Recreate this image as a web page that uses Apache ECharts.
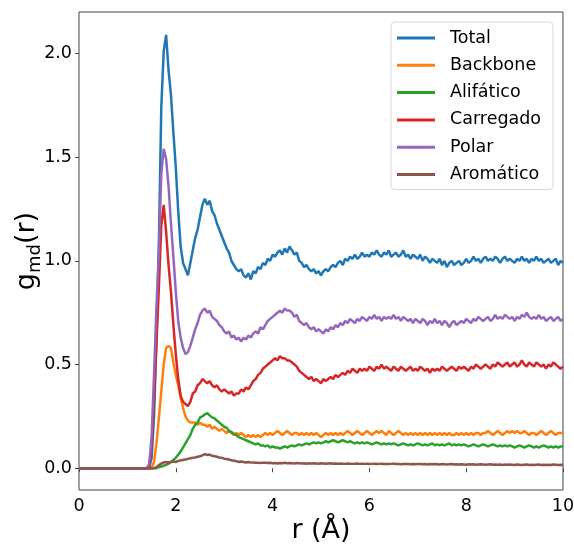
<!DOCTYPE html>
<html>
<head>
<meta charset="utf-8">
<script src="https://cdn.jsdelivr.net/npm/echarts@6/dist/echarts.min.js"></script>
<style>
html,body{margin:0;padding:0;background:#fff;}
#chart{width:574px;height:544px;}
</style>
</head>
<body>
<div id="chart"></div>
<script>
// r grid (Å)
var r = [0,
1.40,1.45,1.50,1.55,1.60,1.65,1.70,1.75,1.80,1.85,
1.90,1.95,2.00,2.05,2.10,2.15,2.20,2.25,2.30,2.35,
2.40,2.45,2.50,2.55,2.60,2.65,2.70,2.75,2.80,2.85,
2.90,2.95,3.00,3.05,3.10,3.15,3.20,3.25,3.30,3.35,
3.40,3.45,3.50,3.55,3.60,3.65,3.70,3.75,3.80,3.85,
3.90,3.95,4.00,4.05,4.10,4.15,4.20,4.25,4.30,4.35,
4.40,4.45,4.50,4.55,4.60,4.65,4.70,4.75,4.80,4.85,
4.90,4.95,5.00,5.05,5.10,5.15,5.20,5.25,5.30,5.35,
5.40,5.45,5.50,5.55,5.60,5.65,5.70,5.75,5.80,5.85,
5.90,5.95,6.00,6.05,6.10,6.15,6.20,6.25,6.30,6.35,
6.40,6.45,6.50,6.55,6.60,6.65,6.70,6.75,6.80,6.85,
6.90,6.95,7.00,7.05,7.10,7.15,7.20,7.25,7.30,7.35,
7.40,7.45,7.50,7.55,7.60,7.65,7.70,7.75,7.80,7.85,
7.90,7.95,8.00,8.05,8.10,8.15,8.20,8.25,8.30,8.35,
8.40,8.45,8.50,8.55,8.60,8.65,8.70,8.75,8.80,8.85,
8.90,8.95,9.00,9.05,9.10,9.15,9.20,9.25,9.30,9.35,
9.40,9.45,9.50,9.55,9.60,9.65,9.70,9.75,9.80,9.85,
9.90,9.95,10.00];

var total = [0,
0.00,0.00,0.05,0.25,0.62,1.08,1.74,2.01,2.09,1.92,
1.80,1.62,1.45,1.24,1.07,0.99,0.96,0.93,0.99,1.05,
1.11,1.15,1.21,1.27,1.30,1.27,1.29,1.24,1.22,1.18,
1.15,1.12,1.09,1.06,1.04,1.00,0.98,0.96,0.95,0.96,
0.93,0.92,0.94,0.91,0.95,0.94,0.97,0.96,0.99,0.98,
1.01,1.00,1.03,1.02,1.04,1.05,1.03,1.06,1.04,1.07,
1.05,1.03,1.04,1.00,0.99,0.97,0.98,0.96,0.95,0.96,
0.94,0.95,0.93,0.95,0.96,0.95,0.97,0.98,0.97,0.99,
1.00,0.98,1.01,1.00,1.02,1.01,1.03,1.01,1.02,1.04,
1.02,1.03,1.02,1.04,1.03,1.05,1.03,1.02,1.04,1.03,
1.05,1.02,1.03,1.04,1.02,1.03,1.05,1.02,1.03,1.01,
1.03,1.02,1.01,1.03,1.00,1.02,1.01,0.99,1.01,1.00,
0.99,1.01,0.98,1.00,0.97,0.99,1.00,0.98,0.99,1.00,
0.98,0.99,1.01,0.99,1.00,1.02,1.00,1.01,0.99,1.01,
1.02,1.00,1.01,1.00,1.02,1.01,0.99,1.01,1.02,1.00,
1.01,1.00,0.99,1.01,1.00,1.02,1.00,1.01,0.99,1.01,
1.00,1.02,1.00,1.01,0.99,1.00,1.01,0.99,1.00,1.01,
0.98,1.00,0.99];

var backbone = [0,
0.00,0.00,0.00,0.03,0.12,0.24,0.37,0.50,0.58,0.59,
0.58,0.51,0.45,0.40,0.34,0.29,0.25,0.23,0.22,0.22,
0.22,0.21,0.22,0.21,0.21,0.20,0.21,0.19,0.20,0.19,
0.18,0.19,0.18,0.17,0.18,0.17,0.16,0.17,0.16,0.17,
0.16,0.15,0.16,0.15,0.16,0.15,0.16,0.15,0.16,0.17,
0.16,0.17,0.16,0.17,0.18,0.17,0.16,0.17,0.18,0.17,
0.16,0.17,0.17,0.16,0.17,0.16,0.17,0.16,0.17,0.16,
0.17,0.16,0.15,0.16,0.17,0.16,0.17,0.16,0.17,0.16,
0.17,0.16,0.17,0.18,0.17,0.16,0.17,0.18,0.17,0.16,
0.17,0.18,0.17,0.16,0.17,0.18,0.17,0.18,0.17,0.16,
0.18,0.17,0.16,0.17,0.18,0.17,0.16,0.17,0.16,0.17,
0.16,0.17,0.16,0.17,0.16,0.17,0.16,0.17,0.16,0.17,
0.16,0.17,0.16,0.17,0.16,0.17,0.16,0.16,0.17,0.16,
0.17,0.16,0.17,0.16,0.17,0.16,0.17,0.17,0.16,0.17,
0.17,0.18,0.17,0.16,0.17,0.18,0.17,0.16,0.17,0.18,
0.17,0.18,0.17,0.18,0.17,0.17,0.18,0.17,0.16,0.17,
0.17,0.16,0.17,0.18,0.17,0.16,0.17,0.18,0.17,0.16,
0.17,0.17,0.17];

var alifatico = [0,
0.00,0.00,0.00,0.00,0.00,0.005,0.008,0.012,0.016,0.022,
0.03,0.04,0.05,0.065,0.08,0.10,0.12,0.14,0.16,0.19,
0.21,0.22,0.245,0.25,0.26,0.265,0.255,0.245,0.24,0.23,
0.22,0.21,0.20,0.195,0.18,0.175,0.165,0.16,0.15,0.145,
0.14,0.135,0.13,0.125,0.12,0.115,0.12,0.11,0.11,0.105,
0.11,0.10,0.105,0.10,0.10,0.095,0.10,0.105,0.10,0.105,
0.11,0.105,0.11,0.115,0.11,0.115,0.12,0.115,0.12,0.125,
0.12,0.125,0.12,0.125,0.13,0.125,0.13,0.135,0.13,0.125,
0.13,0.135,0.13,0.125,0.13,0.125,0.12,0.125,0.12,0.125,
0.12,0.125,0.12,0.115,0.12,0.125,0.12,0.115,0.12,0.115,
0.12,0.115,0.12,0.115,0.11,0.115,0.12,0.115,0.11,0.115,
0.11,0.115,0.12,0.115,0.11,0.115,0.11,0.115,0.12,0.11,
0.115,0.11,0.115,0.11,0.115,0.12,0.11,0.115,0.11,0.115,
0.11,0.115,0.11,0.105,0.11,0.115,0.11,0.105,0.11,0.115,
0.11,0.105,0.11,0.115,0.11,0.105,0.11,0.105,0.11,0.105,
0.11,0.105,0.10,0.105,0.11,0.105,0.10,0.105,0.11,0.105,
0.10,0.105,0.10,0.105,0.11,0.105,0.10,0.105,0.10,0.105,
0.10,0.105,0.105];

var carregado = [0,
0.00,0.01,0.10,0.33,0.60,0.87,1.17,1.27,1.14,0.98,
0.85,0.69,0.55,0.43,0.35,0.32,0.31,0.30,0.32,0.36,
0.37,0.40,0.41,0.43,0.42,0.41,0.42,0.40,0.39,0.40,
0.38,0.37,0.38,0.37,0.36,0.37,0.35,0.36,0.36,0.38,
0.37,0.39,0.38,0.40,0.42,0.43,0.45,0.46,0.48,0.49,
0.50,0.51,0.52,0.53,0.52,0.54,0.53,0.53,0.52,0.52,
0.51,0.50,0.49,0.47,0.46,0.45,0.44,0.43,0.44,0.42,
0.43,0.42,0.41,0.43,0.42,0.43,0.44,0.43,0.45,0.44,
0.45,0.46,0.45,0.47,0.46,0.48,0.47,0.46,0.48,0.47,
0.48,0.47,0.49,0.48,0.47,0.49,0.48,0.50,0.48,0.49,
0.48,0.47,0.49,0.48,0.47,0.49,0.48,0.47,0.48,0.49,
0.47,0.48,0.47,0.49,0.48,0.47,0.48,0.46,0.48,0.47,
0.48,0.47,0.49,0.48,0.47,0.48,0.49,0.48,0.47,0.49,
0.48,0.49,0.48,0.47,0.49,0.48,0.50,0.49,0.48,0.49,
0.50,0.49,0.48,0.50,0.49,0.51,0.50,0.49,0.50,0.51,
0.49,0.50,0.51,0.49,0.50,0.52,0.50,0.49,0.51,0.50,
0.49,0.51,0.50,0.49,0.50,0.48,0.50,0.49,0.51,0.50,
0.49,0.48,0.49];

var polar = [0,
0.00,0.02,0.15,0.45,0.78,1.04,1.42,1.54,1.49,1.36,
1.18,1.02,0.85,0.71,0.63,0.58,0.55,0.56,0.59,0.63,
0.67,0.70,0.74,0.76,0.77,0.75,0.76,0.73,0.72,0.71,
0.69,0.68,0.66,0.65,0.66,0.63,0.64,0.62,0.63,0.61,
0.63,0.62,0.64,0.63,0.65,0.66,0.65,0.68,0.67,0.69,
0.71,0.72,0.73,0.74,0.75,0.76,0.75,0.77,0.76,0.76,
0.75,0.73,0.74,0.71,0.70,0.69,0.70,0.68,0.67,0.68,
0.66,0.67,0.66,0.65,0.67,0.66,0.68,0.67,0.69,0.68,
0.70,0.69,0.71,0.70,0.72,0.71,0.70,0.72,0.71,0.73,
0.72,0.71,0.73,0.72,0.74,0.72,0.73,0.71,0.73,0.72,
0.73,0.72,0.74,0.72,0.73,0.71,0.73,0.72,0.71,0.72,
0.70,0.72,0.71,0.70,0.72,0.71,0.69,0.71,0.70,0.72,
0.70,0.71,0.69,0.71,0.70,0.68,0.70,0.71,0.69,0.70,
0.71,0.70,0.72,0.71,0.70,0.72,0.71,0.73,0.72,0.71,
0.72,0.73,0.71,0.72,0.74,0.72,0.73,0.72,0.74,0.73,
0.72,0.73,0.71,0.73,0.72,0.74,0.73,0.75,0.73,0.72,
0.73,0.72,0.74,0.72,0.73,0.71,0.72,0.73,0.71,0.72,
0.73,0.71,0.72];

var aromatico = [0,
0.00,0.00,0.00,0.00,0.005,0.015,0.022,0.028,0.030,0.028,
0.030,0.032,0.030,0.035,0.038,0.040,0.042,0.045,0.048,0.050,
0.052,0.055,0.058,0.062,0.068,0.064,0.066,0.060,0.058,0.055,
0.052,0.050,0.046,0.044,0.042,0.038,0.036,0.034,0.030,0.032,
0.030,0.028,0.030,0.027,0.028,0.026,0.027,0.025,0.027,0.026,
0.025,0.026,0.024,0.025,0.023,0.025,0.024,0.026,0.024,0.025,
0.024,0.023,0.025,0.024,0.023,0.024,0.022,0.024,0.023,0.024,
0.023,0.022,0.024,0.023,0.022,0.023,0.024,0.022,0.023,0.022,
0.023,0.022,0.021,0.023,0.022,0.021,0.022,0.023,0.021,0.022,
0.021,0.022,0.020,0.021,0.022,0.020,0.021,0.022,0.020,0.021,
0.020,0.021,0.022,0.020,0.021,0.019,0.020,0.021,0.020,0.019,
0.020,0.019,0.021,0.020,0.019,0.020,0.018,0.020,0.019,0.020,
0.019,0.018,0.020,0.019,0.018,0.019,0.020,0.018,0.019,0.018,
0.019,0.018,0.017,0.019,0.018,0.019,0.017,0.018,0.019,0.018,
0.017,0.018,0.019,0.017,0.018,0.017,0.018,0.016,0.018,0.017,
0.018,0.017,0.016,0.018,0.017,0.016,0.017,0.018,0.016,0.017,
0.016,0.017,0.018,0.016,0.017,0.016,0.017,0.016,0.018,0.017,
0.016,0.017,0.016];

var seriesNames = ['Total','Backbone','Alifático','Carregado','Polar','Aromático'];
var seriesValues = [total, backbone, alifatico, carregado, polar, aromatico];
var seriesColors = ['#1f77b4','#ff7f0e','#2ca02c','#d62728','#9467bd','#8c564b'];
var xTicks = [0,2,4,6,8,10];
var yTicks = [0,0.5,1.0,1.5,2.0];

var FONT = 'DejaVu Sans';
var chart = echarts.init(document.getElementById('chart'), null, {renderer:'canvas'});

var series = seriesNames.map(function(name, k){
  var vals = seriesValues[k];
  var data = [];
  for (var i = 0; i < r.length; i++) data.push([r[i], vals[i]]);
  return {
    name: name, type: 'line', data: data,
    symbol: 'none', showSymbol: false, smooth: false,
    lineStyle: {color: seriesColors[k], width: 2.5},
    itemStyle: {color: seriesColors[k]},
    emphasis: {disabled: true},
    animation: false
  };
});

chart.setOption({
  animation: false,
  backgroundColor: '#fff',
  textStyle: {fontFamily: FONT},
  grid: {left: 79, right: 11, top: 12, bottom: 54, outerBoundsMode: 'none', containLabel: false,
    show: true, borderColor: '#444', borderWidth: 1, backgroundColor: 'transparent'},
  legend: {
    data: seriesNames.map(function(n){ return {name: n, icon: 'rect'}; }),
    orient: 'vertical',
    left: 391, top: 22,
    itemWidth: 38, itemHeight: 3, itemGap: 7.3,
    padding: [6, 9, 5, 6],
    backgroundColor: '#fff',
    borderColor: '#d6d6d6', borderWidth: 1, borderRadius: 4,
    textStyle: {fontFamily: FONT, fontSize: 17.5, color: '#000', lineHeight: 20, padding: [0, 3, 0, 10]},
    selectedMode: false
  },
  xAxis: {
    type: 'value', min: 0, max: 10, interval: 2,
    name: 'r (Å)', nameLocation: 'middle', nameGap: 27, nameMoveOverlap: false,
    nameTextStyle: {fontFamily: FONT, fontSize: 27, color: '#000'},
    axisLine: {show: false},
    axisTick: {show: true, length: 4, lineStyle: {color: '#444'}, customValues: xTicks},
    axisLabel: {fontFamily: FONT, fontSize: 17.5, color: '#000', margin: 7, customValues: xTicks},
    splitLine: {show: false}
  },
  yAxis: {
    type: 'value', min: -0.105, max: 2.2,
    name: '{a|g}{b|md}{a|(r)}', nameLocation: 'middle', nameGap: 35, nameRotate: 90, nameMoveOverlap: false,
    nameTextStyle: {
      fontFamily: FONT, color: '#000',
      rich: {
        a: {fontFamily: FONT, fontSize: 27, color: '#000', lineHeight: 34, verticalAlign: 'middle'},
        b: {fontFamily: FONT, fontSize: 18, color: '#000', lineHeight: 18, verticalAlign: 'bottom'}
      }
    },
    axisLine: {show: false},
    axisTick: {show: true, length: 4, lineStyle: {color: '#444'}, customValues: yTicks},
    axisLabel: {fontFamily: FONT, fontSize: 17.5, color: '#000', margin: 7, customValues: yTicks,
      formatter: function(v){ return v.toFixed(1); }},
    splitLine: {show: false}
  },
  series: series
});
</script>
</body>
</html>
